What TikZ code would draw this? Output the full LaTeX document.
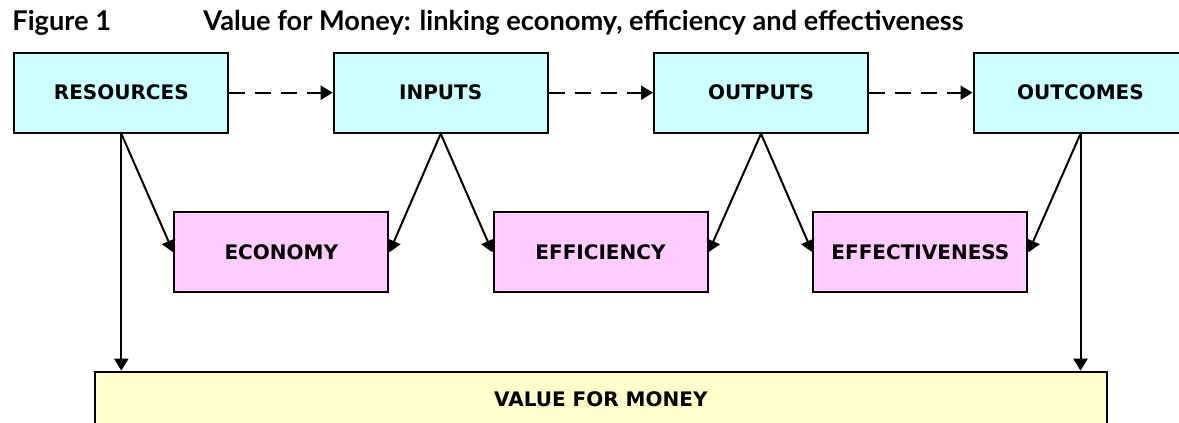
\documentclass[tikz,border=0pt]{standalone}
\usepackage{fontspec}
\setmainfont{DejaVu Sans}
\newfontfamily\headfont{Lato}
\usepackage{tikz}
\usetikzlibrary{arrows.meta,positioning}
\definecolor{stagecyan}{HTML}{CCFFFF}
\definecolor{measurepink}{HTML}{FFCCFF}
\definecolor{vfmyellow}{HTML}{FFFFCC}

\begin{document}
\begin{tikzpicture}[x=0.5pt,y=-0.5pt,>={Triangle[length=6pt,width=7pt]},
  box/.style={draw,line width=1pt,inner sep=0pt,minimum width=107pt,minimum height=40pt,
    font=\bfseries\fontsize{10}{12}\selectfont},
  head/.style={anchor=base west,inner sep=0pt,font=\headfont\bfseries\fontsize{13.6}{16}\selectfont},
  flow/.style={->,line width=1pt}]
  \useasboundingbox (0,0) rectangle (1179,423);
  % heading
  \node[head] (figno) at (12,31) {Figure 1};
  \node[head] (title) at (203,31) {Value for Money: linking economy, efficiency and effectiveness};
  % the chain along the top
  \node[box,fill=stagecyan] (res)  at (121.3,92.7)  {RESOURCES};
  \node[box,fill=stagecyan] (inp)  at (440.7,92.7)  {INPUTS};
  \node[box,fill=stagecyan] (outp) at (761,92.7)    {OUTPUTS};
  \node[box,fill=stagecyan] (outc) at (1080.5,92.7) {OUTCOMES};
  % the three measures
  \node[box,fill=measurepink] (eco) at (281.3,252.3) {ECONOMY};
  \node[box,fill=measurepink] (eff) at (600.5,252.3) {EFFICIENCY};
  \node[box,fill=measurepink] (efv) at (920.4,252.3) {EFFECTIVENESS};
  \node[box,fill=vfmyellow,anchor=north,minimum width=506.4pt,minimum height=28pt] (vfm) at (600.9,370.7) {VALUE FOR MONEY};
  \draw[flow,dashed,dash pattern=on 8pt off 5pt] (res) -- (inp);
  \draw[flow,dashed,dash pattern=on 8pt off 5pt] (inp) -- (outp);
  \draw[flow,dashed,dash pattern=on 8pt off 5pt] (outp) -- (outc);
  \draw[flow] (res.south) -- (eco.west);
  \draw[flow] (inp.south) -- (eco.east);
  \draw[flow] (inp.south) -- (eff.west);
  \draw[flow] (outp.south) -- (eff.east);
  \draw[flow] (outp.south) -- (efv.west);
  \draw[flow] (outc.south) -- (efv.east);
  \draw[flow] (res.south) -- (res.south |- vfm.north);
  \draw[flow] (outc.south) -- (outc.south |- vfm.north);
\end{tikzpicture}
\end{document}
